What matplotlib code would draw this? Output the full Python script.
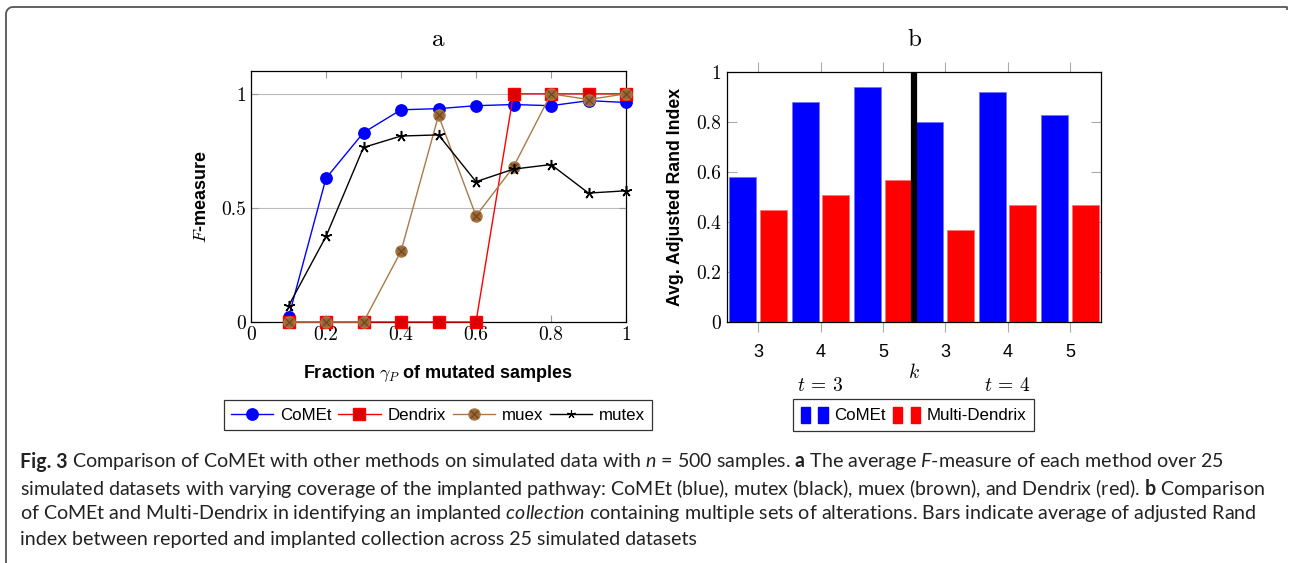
"""Fig. 3: CoMEt vs other methods on simulated data (F-measure lines + ARI bars)."""

import matplotlib

matplotlib.use("Agg")
import matplotlib.pyplot as plt
from matplotlib.legend_handler import HandlerTuple
from matplotlib.lines import Line2D
from matplotlib.patches import Rectangle
import numpy as np

plt.rcParams["mathtext.fontset"] = "custom"
plt.rcParams["mathtext.rm"] = "Lato"
plt.rcParams["mathtext.it"] = "Lato:italic"
plt.rcParams["mathtext.bf"] = "Lato:bold"
plt.rcParams["font.family"] = ["Liberation Sans", "DejaVu Sans"]

# panel a: average F-measure vs fraction of mutated samples
fractions = [0.1, 0.2, 0.3, 0.4, 0.5, 0.6, 0.7, 0.8, 0.9, 1.0]
comet_f = [0.02, 0.63, 0.83, 0.93, 0.935, 0.948, 0.953, 0.948, 0.97, 0.962]
dendrix_f = [0.0, 0.0, 0.0, 0.0, 0.0, 0.0, 1.0, 1.0, 1.0, 1.0]
muex_f = [0.0, 0.0, 0.0, 0.31, 0.905, 0.465, 0.68, 1.0, 0.975, 1.0]
mutex_f = [0.07, 0.375, 0.765, 0.815, 0.82, 0.615, 0.67, 0.69, 0.565, 0.575]
a_xticks = [0, 0.2, 0.4, 0.6, 0.8, 1]
a_yticks = [0, 0.5, 1]

# panel b: average adjusted Rand index for t = 3 and t = 4
k_labels = ["3", "4", "5", "3", "4", "5"]
t_labels = ["$t$ = 3", "$t$ = 4"]
comet_ari = [0.58, 0.88, 0.94, 0.80, 0.92, 0.83]
multi_ari = [0.45, 0.51, 0.57, 0.37, 0.47, 0.47]
b_yticks = [0, 0.2, 0.4, 0.6, 0.8, 1]

caption_head = "Fig. 3"
caption = [
    r"Comparison of CoMEt with other methods on simulated data with "
    r"$\mathit{n}$ = 500 samples. $\mathbf{a}$ The average $\mathit{F}$-measure of each method over 25",
    r"simulated datasets with varying coverage of the implanted pathway: CoMEt (blue), mutex (black), "
    r"muex (brown), and Dendrix (red). $\mathbf{b}$ Comparison",
    r"of CoMEt and Multi-Dendrix in identifying an implanted $\mathit{collection}$ containing multiple "
    r"sets of alterations. Bars indicate average of adjusted Rand",
    r"index between reported and implanted collection across 25 simulated datasets",
]

BLUE, RED = "#0000ff", "#ff0000"
BROWN_LINE, BROWN_FACE, BROWN_X = "#a87a4a", "#9c6834", "#6b4420"
W, H = 1289, 563

fig = plt.figure(figsize=(W / 100, H / 100), dpi=100)


def fx(px):
    return px / W


def fy(py):
    return 1 - py / H


# ---- panel a
ax = fig.add_axes([fx(251), fy(322), fx(375), 251 / H])
ax.plot(fractions, comet_f, color=BLUE, lw=1, marker="o", ms=8.2, mfc=BLUE, mec=BLUE,
        zorder=3, clip_on=False)
ax.plot(fractions, dendrix_f, color=RED, lw=1, marker="s", ms=8.2, mfc="#dd0000", mec=RED,
        zorder=4, clip_on=False)
ax.plot(fractions, muex_f, color=BROWN_LINE, lw=1, marker="o", ms=8, mfc=BROWN_FACE,
        mec=BROWN_LINE, zorder=5, clip_on=False)
ax.plot(fractions, muex_f, ls="none", marker="x", ms=5.2, mew=0.8, color=BROWN_X, zorder=5,
        clip_on=False)
ax.plot(fractions, mutex_f, color="black", lw=1, marker=(5, 2, 0), ms=8, mew=1.1, zorder=6,
        clip_on=False)
ax.set_xlim(0, 1)
ax.set_ylim(0, 1.1)
ax.set_xticks(a_xticks)
ax.set_xticklabels([f"{v:g}" for v in a_xticks], fontfamily="cmr10", fontsize=14)
ax.set_yticks(a_yticks)
ax.set_yticklabels([f"{v:g}" for v in a_yticks], fontfamily="cmr10", fontsize=14)
ax.tick_params(direction="in", top=True, right=True, length=5, color="#999999", width=0.8)
ax.tick_params(axis="x", pad=3)
ax.yaxis.grid(True, color="#bbbbbb", lw=0.8)
for s in ax.spines.values():
    s.set_linewidth(0.9)
ax.set_axisbelow(True)

fig.text(fx(438), fy(40), "a", ha="center", va="center", fontfamily="cmr10", fontsize=18)
fig.text(fx(438), fy(374), r"Fraction $\gamma_P$ of mutated samples", ha="center", va="center",
         fontsize=13, fontweight="bold", math_fontfamily="cm")
fig.text(fx(201), fy(196), r"$F$-measure", ha="center", va="center", rotation=90,
         fontsize=13, fontweight="bold", math_fontfamily="cm")

muex_handle = (
    Line2D([], [], color=BROWN_LINE, lw=1, marker="o", ms=8, mfc=BROWN_FACE, mec=BROWN_LINE),
    Line2D([], [], ls="none", marker="x", ms=5.2, mew=0.8, color=BROWN_X),
)
handles_a = [
    Line2D([], [], color=BLUE, lw=1, marker="o", ms=8.2, mfc=BLUE, mec=BLUE),
    Line2D([], [], color=RED, lw=1, marker="s", ms=8, mfc="#dd0000", mec=RED),
    muex_handle,
    Line2D([], [], color="black", lw=1, marker=(5, 2, 0), ms=6, mew=0.8),
]
leg_a = fig.legend(handles_a, ["CoMEt", "Dendrix", "muex", "mutex"], loc="center",
                   bbox_to_anchor=(fx(438), fy(415)), ncol=4, fontsize=12.2, frameon=True,
                   fancybox=False, edgecolor="black", handlelength=2.5, handletextpad=0.4,
                   columnspacing=0.4, borderpad=0.42,
                   handler_map={tuple: HandlerTuple(ndivide=1)})
leg_a.get_frame().set_linewidth(0.9)

# ---- panel b
bx = fig.add_axes([fx(727), fy(322), fx(374), 250 / H])
pos = np.arange(len(k_labels))
bw = 0.43
bx.bar(pos - 0.245, comet_ari, bw, color=BLUE, edgecolor="#7070ff", lw=0.5, zorder=2)
bx.bar(pos + 0.245, multi_ari, bw, color=RED, edgecolor="#ff7070", lw=0.5, zorder=2)
bx.axvline(2.5, color="black", lw=4.5, zorder=3)
bx.set_xlim(-0.5, len(k_labels) - 0.5)
bx.set_ylim(0, 1)
bx.set_xticks(pos)
bx.set_xticklabels(k_labels, fontsize=13)
bx.set_yticks(b_yticks)
bx.set_yticklabels([f"{v:g}" for v in b_yticks], fontfamily="cmr10", fontsize=14)
bx.tick_params(axis="x", direction="out", top=True, length=7, color="#aaaaaa", width=0.8, pad=9)
bx.tick_params(axis="y", direction="in", right=True, length=7, color="#aaaaaa", width=0.8, pad=4)
for s in bx.spines.values():
    s.set_linewidth(0.9)

fig.text(fx(914), fy(40), "b", ha="center", va="center", fontfamily="cmr10", fontsize=18)
fig.text(fx(914), fy(373), "$k$", ha="center", va="center", fontsize=14, math_fontfamily="cm")
for i, lab in enumerate(t_labels):
    fig.text(fx(820 + 187 * i), fy(386), lab, ha="center", va="center", fontfamily="cmr10",
             fontsize=14, math_fontfamily="cm")
fig.text(fx(676), fy(197), "Avg. Adjusted Rand Index", ha="center", va="center", rotation=90,
         fontsize=12.7, fontweight="bold")

handles_b = [
    (Rectangle((0, 0), 1, 1, color=BLUE), Rectangle((0, 0), 1, 1, color=BLUE)),
    (Rectangle((0, 0), 1, 1, color=RED), Rectangle((0, 0), 1, 1, color=RED)),
]
leg_b = fig.legend(handles_b, ["CoMEt", "Multi-Dendrix"], loc="center",
                   bbox_to_anchor=(fx(913.5), fy(415)), ncol=2, fontsize=12.2, frameon=True,
                   fancybox=False, edgecolor="black", handlelength=1.6, handleheight=1.1,
                   handletextpad=0.4, columnspacing=0.4, borderpad=0.42,
                   handler_map={tuple: HandlerTuple(ndivide=None, pad=0.5)})
leg_b.get_frame().set_linewidth(0.9)

# ---- caption, scaled so that the second line spans the same width as in the figure
renderer = fig.canvas.get_renderer()
probe = fig.text(0, 0, caption[1], fontfamily="Lato", fontsize=13)
width = probe.get_window_extent(renderer).width
probe.remove()
cap_size = 13 * (1242 / width)
head = fig.text(fx(20), fy(462), caption_head, ha="left", va="center", fontfamily="Lato",
                fontsize=cap_size, fontweight="bold", color="#222222")
head_w = head.get_window_extent(renderer).width + cap_size * 0.3
for i, line in enumerate(caption):
    x0 = 20 + (head_w if i == 0 else 0)
    fig.text(fx(x0), fy(462 + 26 * i), line, ha="left", va="center", fontfamily="Lato",
             fontsize=cap_size, color="#222222")

# ---- frame with rounded top-left corner
r = 7
xs = [6, 6] + [6 + r - r * np.cos(t) for t in np.linspace(0, np.pi / 2, 8)] + [1285, 1287, 1287]
ys = [563, 7 + r] + [7 + r - r * np.sin(t) for t in np.linspace(0, np.pi / 2, 8)] + [7, 7, 9]
fig.add_artist(Line2D([fx(v) for v in xs], [fy(v) for v in ys], color="#555555", lw=1.3))

fig.savefig("out.png", dpi=100)
